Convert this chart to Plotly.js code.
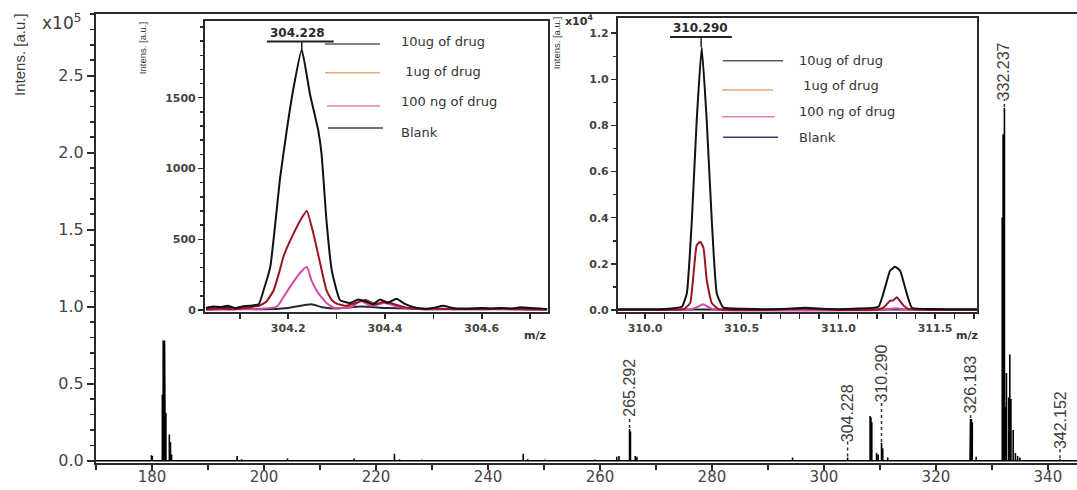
<!DOCTYPE html>
<html>
<head>
<meta charset="utf-8">
<script src="https://cdn.plot.ly/plotly-3.0.1.min.js"></script>
<style>html,body{margin:0;padding:0;background:#fff}#chart{width:1077px;height:490px}</style>
</head>
<body>
<div id="chart"></div>
<script>
// ---------------- DATA ----------------
// Main mass spectrum (m/z, intensity in units of 1e5 a.u.)
const mainMz = [178.2, 179.9, 180.05, 181.85, 182.0, 182.12, 182.24, 182.36, 182.48, 183.1, 183.3, 183.5,
  192.1, 195.2, 196.0, 204.2, 216.1, 223.3, 224.2, 228.2,
  246.3, 247.1, 250.2, 259.1, 263.0, 263.4, 265.29, 265.45, 266.3, 266.6, 294.4,
  304.23, 308.25, 308.4, 308.55, 309.4, 309.7, 310.29, 310.5, 311.4,
  326.1, 326.18, 326.35, 326.5, 327.2,
  331.85, 332.0, 332.24, 332.4, 332.6, 333.0, 333.2, 333.4, 333.8, 334.2, 334.6, 335.0, 342.15];
const mainInt = [0.005, 0.035, 0.03, 0.43, 0.78, 0.78, 0.78, 0.78, 0.31, 0.17, 0.12, 0.04,
  0.005, 0.03, 0.01, 0.015, 0.015, 0.045, 0.01, 0.008,
  0.045, 0.01, 0.008, 0.008, 0.025, 0.03, 0.205, 0.19, 0.03, 0.025, 0.02,
  0.02, 0.29, 0.28, 0.25, 0.05, 0.04, 0.115, 0.08, 0.02,
  0.26, 0.27, 0.27, 0.25, 0.025,
  1.58, 2.12, 2.29, 0.35, 0.57, 0.41, 0.69, 0.4, 0.2, 0.05, 0.03, 0.02, 0.01];
const peakLabels = [265.292, 304.228, 310.290, 326.183, 332.237, 342.152];

// Inset 1: m/z 304.0 - 304.7 (intensity a.u.)
const in1Mz10ug = [304.030,304.045,304.060,304.075,304.090,304.105,304.120,304.139,304.150,304.163,304.1835,304.197,304.211,304.228,304.245,304.262,304.269,304.279,304.290,304.307,304.328,304.345,304.360,304.375,304.390,304.405,304.424,304.440,304.460,304.480,304.500,304.520,304.540,304.560,304.580,304.600,304.620,304.640,304.660,304.680,304.700,304.720,304.735];
const in1Int10ug = [15,25,20,30,15,25,30,40,150,305,940,1270,1570,1840,1525,1270,1100,635,280,70,50,75,60,40,75,50,80,45,20,10,15,30,15,10,10,15,10,15,10,20,15,10,5];
const in1Mz1ug = [304.030,304.060,304.090,304.120,304.140,304.155,304.170,304.180,304.190,304.200,304.211,304.225,304.2385,304.252,304.266,304.279,304.290,304.300,304.320,304.340,304.360,304.380,304.400,304.420,304.440,304.460,304.480,304.500,304.550,304.600,304.650,304.700,304.735];
const in1Int1ug = [5,10,5,20,30,60,140,250,375,460,540,635,700,540,330,140,70,45,30,50,70,40,60,40,20,10,5,10,5,5,10,5,5];
const in1Mz100ng = [304.030,304.100,304.150,304.177,304.190,304.204,304.224,304.2385,304.248,304.262,304.279,304.295,304.330,304.350,304.370,304.400,304.420,304.450,304.500,304.600,304.735];
const in1Int100ng = [0,5,10,25,90,165,260,305,210,120,50,15,20,65,30,50,30,10,5,5,0];
const in1MzBlank = [304.030,304.060,304.100,304.150,304.200,304.248,304.270,304.300,304.350,304.400,304.450,304.500,304.600,304.700,304.735];
const in1IntBlank = [15,20,10,5,15,40,20,10,25,15,10,5,10,5,5];

// Inset 2: m/z 309.9 - 311.7 (intensity x1e4 a.u.)
const in2Mz10ug = [309.86,310.00,310.10,310.190,310.216,310.242,310.267,310.293,310.319,310.345,310.371,310.405,310.50,310.70,310.83,310.95,311.10,311.207,311.242,311.267,311.293,311.319,311.354,311.380,311.50,311.717];
const in2Int10ug = [0.003,0.003,0.004,0.014,0.072,0.39,0.82,1.14,0.82,0.39,0.072,0.01,0.005,0.004,0.01,0.004,0.006,0.014,0.10,0.17,0.188,0.17,0.07,0.01,0.004,0.003];
const in2Mz1ug = [309.86,310.10,310.20,310.233,310.250,310.267,310.285,310.302,310.319,310.345,310.380,310.60,310.83,311.00,311.20,311.233,311.267,311.284,311.302,311.336,311.362,311.50,311.717];
const in2Int1ug = [0.0,0.0,0.004,0.03,0.15,0.28,0.296,0.27,0.13,0.03,0.004,0.0,0.006,0.0,0.002,0.01,0.04,0.042,0.055,0.02,0.005,0.0,0.0];
const in2Mz100ng = [309.86,310.20,310.240,310.267,310.302,310.336,310.380,311.20,311.260,311.300,311.340,311.717];
const in2Int100ng = [0,0,0.003,0.012,0.025,0.008,0,0,0.004,0.008,0.003,0];
const in2MzBlank = [309.86,310.30,310.80,311.30,311.717];
const in2IntBlank = [0.001,0.002,0.001,0.002,0.001];

const legendNames = ['10ug of drug', ' 1ug of drug', '100 ng of drug', 'Blank'];
const inset1Ticks = [0, 500, 1000, 1500];

// ---------------- STYLE ----------------
const AXC = '#2a2a2a';
const TXT = '#3c3c3c';
const curveColors = ['#111111', '#9c1422', '#d24aa8', '#262630'];
const legendLineColors = ['#5a5a5a', '#e9a77a', '#e57cc0', '#3c3c6e'];

// stick spectrum built from the peak list
function sticks(mz, it, lo, hi) {
  const xs = [lo], ys = [0];
  mz.forEach((m, i) => { xs.push(m, m, m); ys.push(0, it[i], 0); });
  xs.push(hi); ys.push(0);
  return {x: xs, y: ys};
}
const st = sticks(mainMz, mainInt, 170, 345.2);

const traces = [
  {type:'scatter', mode:'lines', x: st.x, y: st.y, xaxis:'x', yaxis:'y',
   line:{color:'#000', width:1.6}, hoverinfo:'skip'},
];
const in1 = [[in1Mz10ug,in1Int10ug],[in1Mz1ug,in1Int1ug],[in1Mz100ng,in1Int100ng],[in1MzBlank,in1IntBlank]];
const in2 = [[in2Mz10ug,in2Int10ug],[in2Mz1ug,in2Int1ug],[in2Mz100ng,in2Int100ng],[in2MzBlank,in2IntBlank]];
[3,2,1,0].forEach(k => {
  traces.push({type:'scatter', mode:'lines', x:in1[k][0], y:in1[k][1], xaxis:'x2', yaxis:'y2',
    line:{color:curveColors[k], width:2, shape:'spline', smoothing:0.4}, name:legendNames[k]});
});
[3,2,1,0].forEach(k => {
  traces.push({type:'scatter', mode:'lines', x:in2[k][0], y:in2[k][1], xaxis:'x3', yaxis:'y3',
    line:{color:curveColors[k], width:2, shape:'spline', smoothing:0.4}, name:legendNames[k]});
});

const annotations = [];
const shapes = [];

// main peak labels with dotted leaders
const labelLift = [12, 15, 40, 5, 8, 10];
peakLabels.forEach((m, i) => {
  let best = 0;
  mainMz.forEach((x, j) => { if (Math.abs(x - m) < 0.15) best = Math.max(best, mainInt[j]); });
  shapes.push({type:'line', xref:'x', yref:'y', ysizemode:'pixel', yanchor: best,
    x0:m, x1:m, y0:1, y1:labelLift[i]+1, line:{color:'#333', width:1.5, dash:'dot'}});
  annotations.push({xref:'x', yref:'y', x:m, y:best, yshift:labelLift[i]-2, yanchor:'bottom', xanchor:'center',
    text: m.toFixed(3), textangle:-90, showarrow:false,
    font:{family:'Liberation Sans, Arial', size:16, color:TXT}});
});

// inset peak labels (underlined, with a tick down to the peak)
function insetLabel(xr, yr, mzArr, itArr, label, halfL, halfR, lift, textShift, fsize) {
  let best = 0;
  mzArr.forEach((x, j) => { if (itArr[j] > best) best = itArr[j]; });
  shapes.push({type:'line', xref:xr, yref:yr, ysizemode:'pixel', yanchor:best,
    x0:label, x1:label, y0:0, y1:lift, line:{color:'#222', width:1.5}});
  shapes.push({type:'line', xref:xr, yref:yr, ysizemode:'pixel', yanchor:best,
    x0:label-halfL, x1:label+halfR, y0:lift, y1:lift, line:{color:'#222', width:2}});
  annotations.push({xref:xr, yref:yr, x:label, y:best, yshift:lift, xshift:textShift,
    yanchor:'bottom', xanchor:'center', text:label.toFixed(3), showarrow:false,
    font:{family:'DejaVu Sans', size:fsize, color:'#2a2a2a', weight:'bold'}});
}
insetLabel('x2','y2', in1Mz10ug, in1Int10ug, 304.228, 0.072, 0.066, 8, -4, 12);
insetLabel('x3','y3', in2Mz10ug, in2Int10ug, 310.290, 0.161, 0.159, 10, -1, 12);

// inset legends (line + text) in axis-domain coordinates
const leg1 = {lx0:[0.350,0.350,0.356,0.359], lx1:[0.510,0.510,0.510,0.519], ly:[0.921,0.822,0.708,0.632],
              tx:0.565, ty:[0.931,0.826,0.723,0.616], xr:'x2 domain', yr:'y2 domain'};
const leg2 = {lx0:[0.292,0.290,0.290,0.292], lx1:[0.460,0.432,0.437,0.446], ly:[0.855,0.755,0.664,0.594],
              tx:0.499, ty:[0.855,0.769,0.681,0.595], xr:'x3 domain', yr:'y3 domain'};
[leg1, leg2].forEach(L => {
  legendNames.forEach((nm, k) => {
    shapes.push({type:'line', xref:L.xr, yref:L.yr, x0:L.lx0[k], x1:L.lx1[k], y0:L.ly[k], y1:L.ly[k],
      line:{color:legendLineColors[k], width:1.5}});
    annotations.push({xref:L.xr, yref:L.yr, x:L.tx, y:L.ty[k], xanchor:'left', yanchor:'middle',
      text:nm, showarrow:false, font:{family:'DejaVu Sans', size:13, color:'#333'}});
  });
});

// axis titles / exponents
annotations.push({xref:'paper', yref:'paper', x:-0.0775, y:0.911, text:'Intens. [a.u.]', textangle:-90,
  showarrow:false, xanchor:'center', yanchor:'middle', font:{family:'Liberation Sans, Arial', size:15, color:TXT}});
annotations.push({xref:'paper', yref:'paper', x:-0.0347, y:0.982, text:'x10<sup>5</sup>',
  showarrow:false, xanchor:'center', yanchor:'middle', font:{family:'DejaVu Sans', size:17, color:TXT}});
annotations.push({xref:'paper', yref:'paper', x:0.0469, y:0.924, text:'Intens. [a.u.]', textangle:-90,
  showarrow:false, xanchor:'center', yanchor:'middle', font:{family:'Liberation Sans, Arial', size:9.5, color:'#333'}});
annotations.push({xref:'paper', yref:'paper', x:0.4689, y:0.935, text:'Intens. [a.u.]', textangle:-90,
  showarrow:false, xanchor:'center', yanchor:'middle', font:{family:'Liberation Sans, Arial', size:9.5, color:'#333'}});
annotations.push({xref:'paper', yref:'paper', x:0.4924, y:0.985, text:'x10<sup>4</sup>',
  showarrow:false, xanchor:'center', yanchor:'middle', font:{family:'DejaVu Sans', size:11, color:'#333', weight:'bold'}});
annotations.push({xref:'paper', yref:'paper', x:0.4475, y:0.285, text:'m/z',
  showarrow:false, xanchor:'center', yanchor:'middle', font:{family:'DejaVu Sans', size:11, color:'#333', weight:'bold'}});
annotations.push({xref:'paper', yref:'paper', x:0.8879, y:0.285, text:'m/z',
  showarrow:false, xanchor:'center', yanchor:'middle', font:{family:'DejaVu Sans', size:11, color:'#333', weight:'bold'}});

const mainTickFont = {family:'DejaVu Sans', size:15, color:'#444'};
const insetTickFont = {family:'DejaVu Sans', size:11, color:'#444', weight:'bold'};

function insetAxis(extra) {
  return Object.assign({showline:true, mirror:true, linecolor:AXC, linewidth:2, ticks:'outside',
    ticklen:5, tickwidth:1.5, tickcolor:AXC, showgrid:false, zeroline:false, tickfont:insetTickFont,
    fixedrange:true}, extra);
}

const layout = {
  width:1077, height:490,
  margin:{l:96, r:0, t:14, b:27, pad:0},
  paper_bgcolor:'#fff', plot_bgcolor:'rgba(0,0,0,0)',
  showlegend:false,
  xaxis:{domain:[0,1], range:[170,345.2], tick0:0, dtick:20, showline:true, mirror:true,
    linecolor:AXC, linewidth:2, ticks:'outside', ticklen:5, tickwidth:2, tickcolor:AXC,
    ticklabelstandoff:-6,
    minor:{dtick:10, ticks:'outside', ticklen:5, tickwidth:2, tickcolor:AXC},
    showgrid:false, zeroline:false, tickfont:mainTickFont, anchor:'y'},
  yaxis:{domain:[0,1], range:[-0.015,2.9], tick0:0, dtick:0.5, tickformat:'.1f', showline:true,
    linecolor:AXC, linewidth:2, ticks:'outside', ticklen:7, tickwidth:2, tickcolor:AXC,
    minor:{dtick:0.1, ticks:'outside', ticklen:4, tickwidth:1.5, tickcolor:AXC},
    showgrid:false, zeroline:false, tickfont:{family:'DejaVu Sans', size:16, color:'#444'}, anchor:'x'},
  xaxis2: insetAxis({domain:[0.1111,0.4608], anchor:'y2', range:[304.028,304.737], tick0:304, dtick:0.2,
    tickformat:'.1f', minor:{dtick:0.1, ticks:'outside', ticklen:5, tickwidth:1.5, tickcolor:AXC}}),
  yaxis2: insetAxis({domain:[0.3363,0.9844], anchor:'x2', range:[-14,2042], tickmode:'array',
    tickvals:inset1Ticks, ticktext:inset1Ticks.map(String),
    minor:{dtick:100, tick0:0, ticks:'outside', ticklen:3, tickwidth:1.5, tickcolor:AXC}}),
  xaxis3: insetAxis({domain:[0.5321,0.8981], anchor:'y3', range:[309.860,311.717], tick0:310, dtick:0.5,
    tickformat:'.1f', minor:{dtick:0.1, ticks:'outside', ticklen:5, tickwidth:1.5, tickcolor:AXC}}),
  yaxis3: insetAxis({domain:[0.3363,0.9911], anchor:'x3', range:[-0.0087,1.266], tick0:0, dtick:0.2,
    tickformat:'.1f', minor:{dtick:0.1, ticks:'outside', ticklen:3, tickwidth:1.5, tickcolor:AXC}}),
  annotations: annotations,
  shapes: shapes
};

Plotly.newPlot('chart', traces, layout, {staticPlot:true, displayModeBar:false});
</script>
</body>
</html>
